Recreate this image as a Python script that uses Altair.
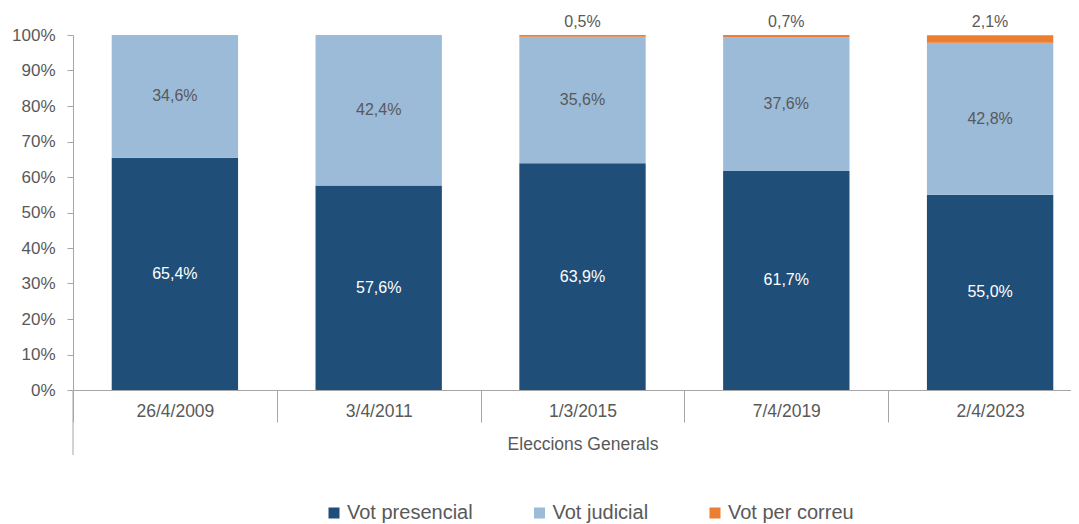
import altair as alt
import pandas as pd

dates = ["26/4/2009", "3/4/2011", "1/3/2015", "7/4/2019", "2/4/2023"]
series = ["Vot presencial", "Vot judicial", "Vot per correu"]
presencial = [65.4, 57.6, 63.9, 61.7, 55.0]
judicial = [34.6, 42.4, 35.6, 37.6, 42.8]
correu = [0.0, 0.0, 0.5, 0.7, 2.1]
colors = ["#1F4E79", "#9BBBD9", "#ED7D31"]
y_ticks = [0, 10, 20, 30, 40, 50, 60, 70, 80, 90, 100]
group_title = "Eleccions Generals"

rows = []
for i, d in enumerate(dates):
    for k, (s, vals) in enumerate(zip(series, [presencial, judicial, correu])):
        rows.append({"date": d, "serie": s, "value": vals[i], "order": k})
df = pd.DataFrame(rows)

FONT = "Liberation Sans"
GREY = "#595959"
AXIS = "#A6A6A6"
W, H = 1019, 355

base = alt.Chart(df).transform_stack(
    stack="value", groupby=["date"], as_=["v0", "v1"], sort=[{"field": "order", "order": "ascending"}]
).transform_calculate(
    mid="(datum.v0 + datum.v1) / 2",
    lab="replace(format(datum.value, '.1f'), '.', ',') + '%'",
)

x_axis = alt.Axis(
    tickBand="extent", tickSize=32, tickColor=AXIS, domainColor=AXIS,
    labelPadding=-20, labelFontSize=17.5, labelColor=GREY, labelFont=FONT,
    titleFontSize=17.5, titleColor=GREY, titleFont=FONT, titleFontWeight="normal",
    titlePadding=13, labelAngle=0,
)
x_scale = alt.Scale(paddingInner=0, paddingOuter=0)
y_axis = alt.Axis(
    values=y_ticks, tickCount=11, labelExpr="datum.value + '%'", grid=False, labelOverlap=False,
    tickSize=6, tickColor=AXIS, domainColor=AXIS, labelPadding=12,
    labelFontSize=17, labelColor=GREY, labelFont=FONT,
)
y_scale = alt.Scale(domain=[0, 100], nice=False)


def X():
    return alt.X("date:N", sort=dates, title=group_title, scale=x_scale, axis=x_axis)


def Y(field):
    return alt.Y(field, title=None, scale=y_scale, axis=y_axis)


bars = base.mark_bar(width=alt.RelativeBandSize(0.62)).encode(
    x=X(),
    y=Y("v0:Q"),
    y2="v1:Q",
    color=alt.Color(
        "serie:N", sort=series,
        scale=alt.Scale(domain=series, range=colors),
        legend=alt.Legend(
            title=None, orient="none", direction="horizontal", legendX=251, legendY=468,
            symbolType="square", symbolSize=121, symbolStrokeWidth=0, symbolOpacity=1,
            labelFontSize=20, labelColor=GREY, labelFont=FONT, labelOffset=3,
            columnPadding=56.5,
        ),
    ),
    order=alt.Order("order:Q"),
)

lab_dark = base.transform_filter("datum.order == 0").mark_text(
    color="white", fontSize=16, font=FONT, baseline="middle"
).encode(x=X(), y=Y("mid:Q"), text="lab:N")

lab_light = base.transform_filter("datum.order == 1").mark_text(
    color=GREY, fontSize=16, font=FONT, baseline="middle"
).encode(x=X(), y=Y("mid:Q"), text="lab:N")

lab_top = base.transform_filter("datum.order == 2 && datum.value > 0").mark_text(
    color=GREY, fontSize=16, font=FONT, baseline="alphabetic", dy=-8
).encode(x=X(), y=Y("v1:Q"), text="lab:N")

ext = alt.Chart(pd.DataFrame({"a": [0]})).mark_rule(color=AXIS, strokeWidth=1).encode(
    x=alt.value(0), y=alt.value(H), y2=alt.value(H + 65)
)

chart = alt.layer(bars, lab_dark, lab_light, lab_top, ext).properties(
    width=W, height=H,
    autosize=alt.AutoSizeParams(type="none"),
    padding={"left": 65, "top": 27, "right": -21, "bottom": 134},
).configure_view(stroke=None)

chart.save("out.html", embed_options={"renderer": "svg", "actions": False})
